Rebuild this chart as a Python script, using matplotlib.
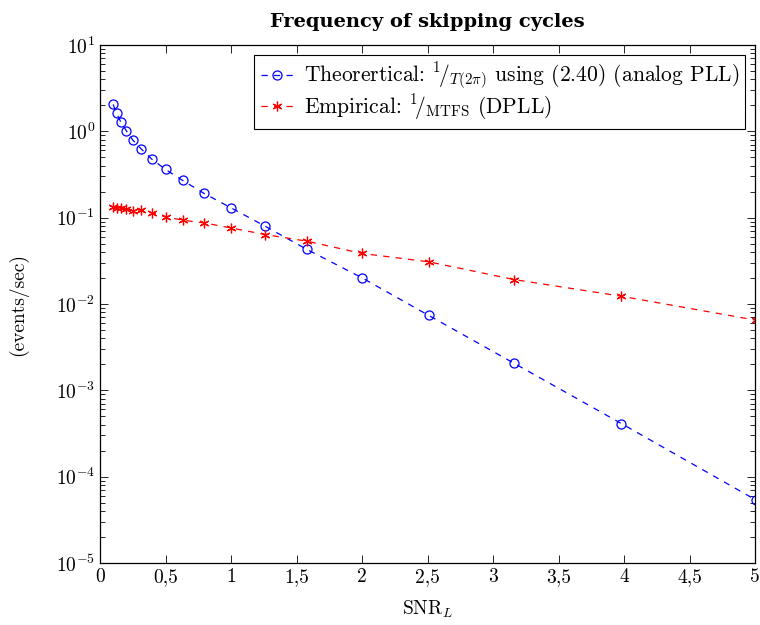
import matplotlib
matplotlib.use("Agg")
import matplotlib.pyplot as plt
from matplotlib.ticker import FixedLocator, LogLocator, NullFormatter

plt.rcParams['font.family'] = 'serif'
plt.rcParams['font.serif'] = ['cmr10', 'DejaVu Serif']
plt.rcParams['mathtext.fontset'] = 'cm'
plt.rcParams['axes.formatter.use_mathtext'] = True
plt.rcParams['axes.unicode_minus'] = False

snr = [0.1, 0.126, 0.158, 0.2, 0.251, 0.316, 0.398, 0.5, 0.631, 0.794,
       1.0, 1.26, 1.58, 2.0, 2.51, 3.16, 3.98, 5.01]
theoretical = [2.05, 1.61, 1.29, 1.02, 0.79, 0.622, 0.472, 0.362, 0.270, 0.191,
               0.130, 0.0797, 0.0428, 0.0201, 0.00736, 0.00206, 0.000412, 5.33e-5]
empirical = [0.132, 0.130, 0.128, 0.1245, 0.121, 0.123, 0.114, 0.102, 0.0935, 0.087,
             0.076, 0.0638, 0.0534, 0.0385, 0.0308, 0.0192, 0.0123, 0.00648]

xticks = [0, 0.5, 1, 1.5, 2, 2.5, 3, 3.5, 4, 4.5, 5]
xticklabels = ['0', '0,5', '1', '1,5', '2', '2,5', '3', '3,5', '4', '4,5', '5']
yticks = [1e-5, 1e-4, 1e-3, 1e-2, 1e-1, 1e0, 1e1]
yticklabels = [r'$10^{-5}$', r'$10^{-4}$', r'$10^{-3}$', r'$10^{-2}$', r'$10^{-1}$', r'$10^{0}$', r'$10^{1}$']

fig = plt.figure(figsize=(7.6, 6.25), dpi=100)
ax = fig.add_axes([0.1316, 0.0992, 0.8619, 0.8288])

ax.plot(snr, theoretical, color=(0, 0, 1), linestyle=(0, (5, 5)), linewidth=0.9,
        marker='o', markersize=6.5, markerfacecolor='none', markeredgecolor=(0, 0, 1),
        markeredgewidth=0.9,
        label=r'Theorertical: $^{1}\!/_{T(2\pi)}$ using (2.40) (analog PLL)')
ax.plot(snr, empirical, color=(1, 0, 0), linestyle=(0, (5, 5)), linewidth=0.9,
        marker=(6, 2, 0), markersize=7, markeredgecolor=(1, 0, 0), markeredgewidth=0.9,
        label=r'Empirical: $^{1}\!/_{\mathrm{MTFS}}$ (DPLL)')

ax.set_yscale('log')
ax.set_xlim(0, 5)
ax.set_ylim(1e-5, 1e1)
ax.xaxis.set_major_locator(FixedLocator(xticks))
ax.set_xticklabels(xticklabels)
ax.yaxis.set_major_locator(FixedLocator(yticks))
ax.set_yticklabels(yticklabels)
ax.yaxis.set_minor_locator(LogLocator(base=10, subs=[2, 3, 4, 5, 6, 7, 8, 9], numticks=20))
ax.yaxis.set_minor_formatter(NullFormatter())

ax.tick_params(which='both', direction='in', top=True, right=True, labelsize=14, width=0.6)
ax.tick_params(which='major', length=6)
ax.tick_params(which='minor', length=3.5)
for s in ax.spines.values():
    s.set_linewidth(0.9)

ax.set_xlabel(r'SNR$_L$', fontsize=14, labelpad=9)
ax.set_ylabel('(events/sec)', fontsize=14, labelpad=20)
ax.set_title('Frequency of skipping cycles', fontsize=14, family='DejaVu Serif',
             fontweight='bold', pad=13)

leg = ax.legend(loc='upper right', fontsize=15.5, frameon=True, fancybox=False,
                edgecolor='black', framealpha=1, handlelength=1.5, handletextpad=0.5,
                borderpad=0.3, labelspacing=0.0, borderaxespad=0.45)
leg.get_frame().set_linewidth(0.8)

fig.savefig('out.png', dpi=100)
